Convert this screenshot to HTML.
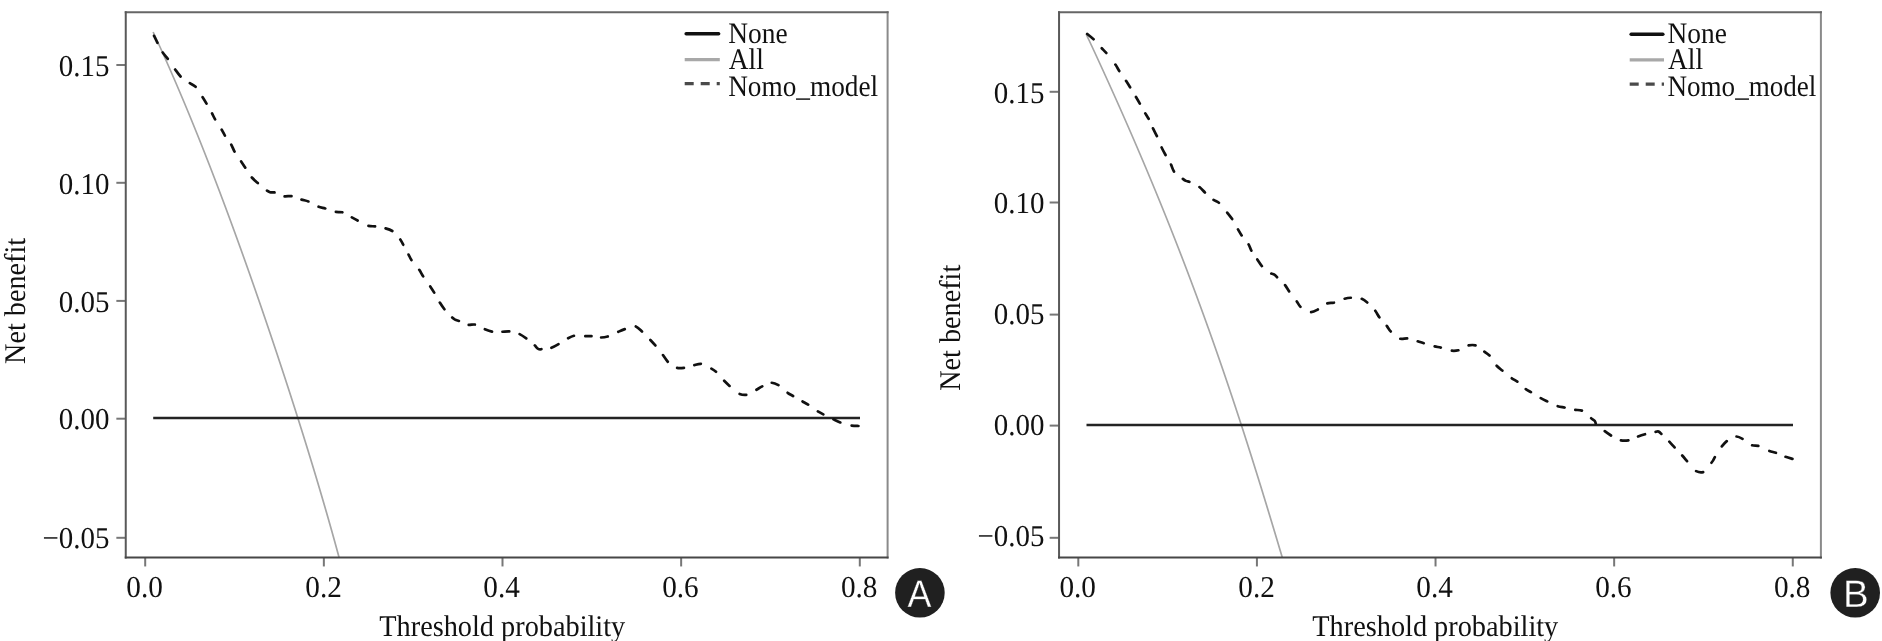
<!DOCTYPE html>
<html><head><meta charset="utf-8"><title>Decision curves</title>
<style>html,body{margin:0;padding:0;background:#fff;width:1882px;height:641px;overflow:hidden}svg{display:block;filter:grayscale(1)}</style>
</head><body>
<svg width="1882" height="641" viewBox="0 0 1882 641" text-rendering="geometricPrecision">
<rect width="100%" height="100%" fill="#fff"/>
<clipPath id="clip0"><rect x="125.75" y="12.30" width="761.85" height="545.15"/></clipPath>
<g clip-path="url(#clip0)" fill="none" stroke-linejoin="round">
<path d="M153.13,32.00 C153.60,33.00 154.99,36.00 155.91,38.00 C156.83,40.00 157.74,42.00 158.65,44.00 C159.56,46.00 160.47,48.00 161.37,50.00 C162.28,52.00 163.18,54.00 164.07,56.00 C164.97,58.00 165.86,60.00 166.74,62.00 C167.63,64.00 168.51,66.00 169.39,68.00 C170.27,70.00 171.15,72.00 172.02,74.00 C172.89,76.00 173.76,78.00 174.62,80.00 C175.48,82.00 176.34,84.00 177.20,86.00 C178.06,88.00 178.91,90.00 179.76,92.00 C180.61,94.00 181.46,96.00 182.30,98.00 C183.14,100.00 183.98,102.00 184.82,104.00 C185.65,106.00 186.49,108.00 187.32,110.00 C188.15,112.00 188.97,114.00 189.80,116.00 C190.62,118.00 191.44,120.00 192.26,122.00 C193.07,124.00 193.89,126.00 194.70,128.00 C195.51,130.00 196.32,132.00 197.13,134.00 C197.93,136.00 198.73,138.00 199.53,140.00 C200.33,142.00 201.13,144.00 201.92,146.00 C202.72,148.00 203.51,150.00 204.30,152.00 C205.09,154.00 205.87,156.00 206.66,158.00 C207.44,160.00 208.22,162.00 209.00,164.00 C209.78,166.00 210.56,168.00 211.33,170.00 C212.10,172.00 212.88,174.00 213.64,176.00 C214.41,178.00 215.18,180.00 215.94,182.00 C216.71,184.00 217.47,186.00 218.23,188.00 C218.99,190.00 219.75,192.00 220.50,194.00 C221.26,196.00 222.01,198.00 222.76,200.00 C223.51,202.00 224.26,204.00 225.01,206.00 C225.76,208.00 226.50,210.00 227.24,212.00 C227.99,214.00 228.73,216.00 229.46,218.00 C230.20,220.00 230.94,222.00 231.67,224.00 C232.41,226.00 233.14,228.00 233.87,230.00 C234.60,232.00 235.33,234.00 236.06,236.00 C236.79,238.00 237.51,240.00 238.23,242.00 C238.96,244.00 239.68,246.00 240.40,248.00 C241.12,250.00 241.84,252.00 242.55,254.00 C243.27,256.00 243.98,258.00 244.70,260.00 C245.41,262.00 246.12,264.00 246.83,266.00 C247.54,268.00 248.25,270.00 248.96,272.00 C249.66,274.00 250.37,276.00 251.07,278.00 C251.77,280.00 252.47,282.00 253.17,284.00 C253.87,286.00 254.57,288.00 255.27,290.00 C255.96,292.00 256.66,294.00 257.35,296.00 C258.05,298.00 258.74,300.00 259.43,302.00 C260.12,304.00 260.81,306.00 261.50,308.00 C262.18,310.00 262.87,312.00 263.55,314.00 C264.24,316.00 264.92,318.00 265.60,320.00 C266.29,322.00 266.97,324.00 267.64,326.00 C268.32,328.00 269.00,330.00 269.68,332.00 C270.35,334.00 271.03,336.00 271.70,338.00 C272.37,340.00 273.04,342.00 273.71,344.00 C274.38,346.00 275.05,348.00 275.72,350.00 C276.39,352.00 277.05,354.00 277.72,356.00 C278.38,358.00 279.04,360.00 279.70,362.00 C280.36,364.00 281.02,366.00 281.68,368.00 C282.34,370.00 283.00,372.00 283.65,374.00 C284.31,376.00 284.96,378.00 285.62,380.00 C286.27,382.00 286.92,384.00 287.57,386.00 C288.22,388.00 288.87,390.00 289.52,392.00 C290.16,394.00 290.81,396.00 291.45,398.00 C292.09,400.00 292.74,402.00 293.38,404.00 C294.02,406.00 294.66,408.00 295.30,410.00 C295.93,412.00 296.57,414.00 297.20,416.00 C297.84,418.00 298.47,420.00 299.10,422.00 C299.74,424.00 300.37,426.00 300.99,428.00 C301.62,430.00 302.25,432.00 302.88,434.00 C303.50,436.00 304.12,438.00 304.75,440.00 C305.37,442.00 305.99,444.00 306.61,446.00 C307.23,448.00 307.84,450.00 308.46,452.00 C309.07,454.00 309.69,456.00 310.30,458.00 C310.91,460.00 311.52,462.00 312.13,464.00 C312.74,466.00 313.34,468.00 313.95,470.00 C314.55,472.00 315.15,474.00 315.76,476.00 C316.36,478.00 316.96,480.00 317.55,482.00 C318.15,484.00 318.75,486.00 319.34,488.00 C319.93,490.00 320.52,492.00 321.11,494.00 C321.70,496.00 322.29,498.00 322.87,500.00 C323.46,502.00 324.04,504.00 324.62,506.00 C325.20,508.00 325.78,510.00 326.36,512.00 C326.94,514.00 327.51,516.00 328.08,518.00 C328.66,520.00 329.23,522.00 329.79,524.00 C330.36,526.00 330.93,528.00 331.49,530.00 C332.05,532.00 332.61,534.00 333.17,536.00 C333.73,538.00 334.29,540.00 334.84,542.00 C335.40,544.00 335.95,546.00 336.49,548.00 C337.04,550.00 337.59,552.00 338.13,554.00 C338.68,556.00 339.48,559.00 339.76,560.00" stroke="#a6a6a6" stroke-width="1.7"/>
<line x1="153.20" y1="418.00" x2="860.00" y2="418.00" stroke="#232323" stroke-width="2.6"/>
<path d="M154.05,35.81 C154.79,37.35 156.26,40.42 157.46,42.82 M162.72,52.55 C164.22,54.65 166.09,56.60 167.80,58.81 M175.17,69.48 C176.91,71.91 178.64,74.44 180.57,76.46 M189.82,83.13 C191.80,84.37 193.80,85.22 195.58,86.80 M202.63,97.25 C204.02,99.44 205.26,101.46 206.52,103.59 M212.06,113.46 C213.11,115.48 213.94,117.36 215.10,119.42 M221.72,129.78 C222.89,131.81 223.74,133.67 224.89,135.58 M231.25,144.61 C232.45,146.84 233.32,149.36 234.54,151.66 M241.14,161.40 C242.55,163.51 243.88,165.56 245.27,167.69 M251.82,177.51 C253.62,179.51 255.76,181.31 257.79,183.08 M267.02,190.66 C268.16,191.49 268.73,191.83 270.00,192.20 C271.33,192.59 272.74,192.22 274.49,192.46 M284.63,196.34 C286.86,196.53 289.23,195.93 291.47,196.08 M301.49,199.58 C303.75,200.24 306.12,200.64 308.40,201.45 M318.61,206.74 C320.82,207.51 323.03,207.82 325.27,208.43 M335.86,211.96 C338.07,212.24 340.28,211.87 342.39,212.27 M351.83,217.37 C353.76,218.44 355.55,219.43 357.60,220.52 M368.47,225.86 C370.70,226.36 372.84,226.19 375.05,226.39 M385.60,228.36 C387.88,229.02 390.24,229.73 392.30,230.98 M400.29,239.53 C401.49,241.27 402.24,242.89 403.22,244.72 M408.56,254.57 C409.53,256.46 410.23,258.14 411.42,260.03 M419.26,269.81 C420.72,271.99 421.79,274.17 423.17,276.38 M430.25,286.42 C431.67,288.55 432.94,290.56 434.21,292.68 M439.80,302.59 C441.23,304.85 442.81,307.20 444.43,309.28 M452.19,317.55 C453.24,318.53 453.84,318.99 455.00,319.60 C456.19,320.23 457.36,320.40 458.91,320.91 M468.74,324.83 C470.75,324.97 472.79,324.32 474.84,324.53 M484.87,329.16 C487.19,330.12 489.65,331.10 492.01,331.62 M502.45,331.77 C504.71,331.65 506.99,331.32 509.25,331.43 M519.62,334.09 C521.88,335.21 524.16,336.85 526.25,338.36 M534.82,345.40 C536.16,346.83 536.99,348.27 538.20,348.90 C539.32,349.49 540.12,349.36 541.41,349.21 M551.42,347.81 C553.72,346.93 556.20,345.48 558.48,344.17 M568.08,338.24 C570.03,337.21 571.84,336.25 573.94,335.78 M585.31,336.22 C587.48,336.23 589.46,336.06 591.47,336.14 M601.11,337.48 C603.26,337.41 605.51,337.08 607.75,336.48 M618.29,331.81 C620.48,330.85 622.53,329.94 624.78,329.12 M635.82,326.44 C638.04,327.29 640.01,329.64 641.99,331.54 M650.37,340.00 C652.10,341.83 653.69,343.52 655.36,345.45 M662.97,355.07 C664.59,357.33 665.99,359.80 667.77,361.74 M677.11,367.94 C679.31,368.41 681.68,368.15 683.95,367.83 M694.34,365.07 C696.52,364.50 698.65,363.71 700.85,363.80 M711.40,368.61 C713.13,369.59 714.47,370.39 716.01,371.70 M724.18,380.80 C725.94,382.62 727.60,384.20 729.55,385.93 M739.64,393.91 C741.84,394.80 744.06,395.11 746.26,394.85 M756.47,389.72 C758.48,388.58 760.31,387.44 762.26,386.42 M771.78,382.73 C773.95,382.91 776.29,383.90 778.44,385.10 M787.63,392.79 C789.46,394.07 791.19,394.95 793.06,396.01 M802.55,401.47 C804.45,402.52 806.22,403.40 808.14,404.57 M817.86,411.34 C819.74,412.49 821.40,413.35 823.32,414.34 M833.45,419.31 C835.71,420.39 837.94,421.52 840.30,422.46 M851.64,425.66 C854.09,425.96 856.92,425.94 858.43,425.98" stroke="#111" stroke-width="2.70" stroke-linecap="round"/>
</g>
<line x1="116.35" y1="65.00" x2="125.75" y2="65.00" stroke="#777" stroke-width="2"/>
<line x1="116.35" y1="182.80" x2="125.75" y2="182.80" stroke="#777" stroke-width="2"/>
<line x1="116.35" y1="300.90" x2="125.75" y2="300.90" stroke="#777" stroke-width="2"/>
<line x1="116.35" y1="418.70" x2="125.75" y2="418.70" stroke="#777" stroke-width="2"/>
<line x1="116.35" y1="537.80" x2="125.75" y2="537.80" stroke="#777" stroke-width="2"/>
<line x1="145.20" y1="557.45" x2="145.20" y2="566.45" stroke="#777" stroke-width="2"/>
<line x1="323.85" y1="557.45" x2="323.85" y2="566.45" stroke="#777" stroke-width="2"/>
<line x1="502.50" y1="557.45" x2="502.50" y2="566.45" stroke="#777" stroke-width="2"/>
<line x1="681.15" y1="557.45" x2="681.15" y2="566.45" stroke="#777" stroke-width="2"/>
<line x1="859.80" y1="557.45" x2="859.80" y2="566.45" stroke="#777" stroke-width="2"/>
<g stroke-width="2" stroke-linecap="square">
<line x1="887.60" y1="12.30" x2="887.60" y2="557.45" stroke="#8a8a8a"/>
<line x1="125.75" y1="12.30" x2="887.60" y2="12.30" stroke="#666"/>
<line x1="125.75" y1="12.30" x2="125.75" y2="557.45" stroke="#595959"/>
<line x1="125.75" y1="557.45" x2="887.60" y2="557.45" stroke="#474747"/>
</g>
<text class="s" transform="translate(109.50,75.80) scale(0.9550,1)" font-family='"Liberation Serif", serif' font-size="30.30" fill="#111" text-anchor="end">0.15</text>
<text class="s" transform="translate(109.50,193.90) scale(0.9550,1)" font-family='"Liberation Serif", serif' font-size="30.30" fill="#111" text-anchor="end">0.10</text>
<text class="s" transform="translate(109.50,311.70) scale(0.9550,1)" font-family='"Liberation Serif", serif' font-size="30.30" fill="#111" text-anchor="end">0.05</text>
<text class="s" transform="translate(109.50,429.40) scale(0.9550,1)" font-family='"Liberation Serif", serif' font-size="30.30" fill="#111" text-anchor="end">0.00</text>
<text class="s" transform="translate(109.50,547.50) scale(0.9550,1)" font-family='"Liberation Serif", serif' font-size="30.30" fill="#111" text-anchor="end">−0.05</text>
<text class="s" transform="translate(126.33,597.00) scale(0.9650,1)" font-family='"Liberation Serif", serif' font-size="30.30" fill="#111">0.0</text>
<text class="s" transform="translate(305.27,597.00) scale(0.9650,1)" font-family='"Liberation Serif", serif' font-size="30.30" fill="#111">0.2</text>
<text class="s" transform="translate(483.33,597.00) scale(0.9650,1)" font-family='"Liberation Serif", serif' font-size="30.30" fill="#111">0.4</text>
<text class="s" transform="translate(662.13,597.00) scale(0.9650,1)" font-family='"Liberation Serif", serif' font-size="30.30" fill="#111">0.6</text>
<text class="s" transform="translate(840.93,597.00) scale(0.9650,1)" font-family='"Liberation Serif", serif' font-size="30.30" fill="#111">0.8</text>
<text class="s" transform="translate(379.30,636.30) scale(0.9430,1)" font-family='"Liberation Serif", serif' font-size="30.00" fill="#111">Threshold probability</text>
<g transform="translate(25.10,300.60) rotate(-90)"><text class="s" transform="translate(-63.31,0.00) scale(0.9400,1)" font-family='"Liberation Serif", serif' font-size="30.00" fill="#111">Net benefit</text></g>
<line x1="686.20" y1="33.70" x2="718.60" y2="33.70" stroke="#111" stroke-width="3.6" stroke-linecap="round"/>
<line x1="684.70" y1="59.70" x2="719.80" y2="59.70" stroke="#a8a8a8" stroke-width="3.3"/>
<line x1="684.70" y1="83.60" x2="719.80" y2="83.60" stroke="#4a4a4a" stroke-width="3.2" stroke-dasharray="9 7"/>
<text class="s" transform="translate(728.18,42.70) scale(0.9200,1)" font-family='"Liberation Serif", serif' font-size="29.80" fill="#111">None</text>
<text class="s" transform="translate(728.73,68.80) scale(0.9200,1)" font-family='"Liberation Serif", serif' font-size="29.80" fill="#111">All</text>
<text class="s" transform="translate(728.18,95.80) scale(0.9150,1)" font-family='"Liberation Serif", serif' font-size="29.80" fill="#111">Nomo_model</text>
<circle cx="919.90" cy="592.80" r="24.8" fill="#231f20"/>
<text transform="translate(907.48,606.80) scale(0.9300,1)" font-family='"Liberation Sans", sans-serif' font-size="38.50" fill="#fff" stroke="#231f20" stroke-width="0.30">A</text>
<clipPath id="clip933"><rect x="1059.05" y="12.30" width="761.85" height="545.15"/></clipPath>
<g clip-path="url(#clip933)" fill="none" stroke-linejoin="round">
<path d="M1086.15,34.00 C1086.62,35.00 1088.02,38.00 1088.95,40.00 C1089.88,42.00 1090.82,44.00 1091.75,46.00 C1092.67,48.00 1093.60,50.00 1094.53,52.00 C1095.45,54.00 1096.38,56.00 1097.30,58.00 C1098.22,60.00 1099.14,62.00 1100.06,64.00 C1100.98,66.00 1101.89,68.00 1102.81,70.00 C1103.72,72.00 1104.63,74.00 1105.54,76.00 C1106.45,78.00 1107.36,80.00 1108.27,82.00 C1109.17,84.00 1110.08,86.00 1110.98,88.00 C1111.88,90.00 1112.78,92.00 1113.68,94.00 C1114.58,96.00 1115.47,98.00 1116.37,100.00 C1117.26,102.00 1118.15,104.00 1119.04,106.00 C1119.93,108.00 1120.82,110.00 1121.70,112.00 C1122.59,114.00 1123.47,116.00 1124.35,118.00 C1125.23,120.00 1126.11,122.00 1126.99,124.00 C1127.86,126.00 1128.74,128.00 1129.61,130.00 C1130.48,132.00 1131.35,134.00 1132.22,136.00 C1133.08,138.00 1133.95,140.00 1134.81,142.00 C1135.67,144.00 1136.53,146.00 1137.39,148.00 C1138.25,150.00 1139.11,152.00 1139.96,154.00 C1140.81,156.00 1141.67,158.00 1142.52,160.00 C1143.36,162.00 1144.21,164.00 1145.06,166.00 C1145.90,168.00 1146.74,170.00 1147.58,172.00 C1148.42,174.00 1149.26,176.00 1150.09,178.00 C1150.93,180.00 1151.76,182.00 1152.59,184.00 C1153.42,186.00 1154.25,188.00 1155.08,190.00 C1155.90,192.00 1156.72,194.00 1157.54,196.00 C1158.37,198.00 1159.18,200.00 1160.00,202.00 C1160.82,204.00 1161.63,206.00 1162.44,208.00 C1163.25,210.00 1164.06,212.00 1164.87,214.00 C1165.67,216.00 1166.48,218.00 1167.28,220.00 C1168.08,222.00 1168.88,224.00 1169.68,226.00 C1170.47,228.00 1171.27,230.00 1172.06,232.00 C1172.85,234.00 1173.64,236.00 1174.43,238.00 C1175.22,240.00 1176.00,242.00 1176.78,244.00 C1177.56,246.00 1178.34,248.00 1179.12,250.00 C1179.90,252.00 1180.68,254.00 1181.45,256.00 C1182.22,258.00 1182.99,260.00 1183.76,262.00 C1184.53,264.00 1185.29,266.00 1186.06,268.00 C1186.82,270.00 1187.58,272.00 1188.34,274.00 C1189.10,276.00 1189.85,278.00 1190.61,280.00 C1191.36,282.00 1192.11,284.00 1192.86,286.00 C1193.61,288.00 1194.36,290.00 1195.10,292.00 C1195.84,294.00 1196.59,296.00 1197.33,298.00 C1198.06,300.00 1198.80,302.00 1199.54,304.00 C1200.27,306.00 1201.00,308.00 1201.73,310.00 C1202.46,312.00 1203.19,314.00 1203.92,316.00 C1204.64,318.00 1205.37,320.00 1206.09,322.00 C1206.81,324.00 1207.53,326.00 1208.24,328.00 C1208.96,330.00 1209.68,332.00 1210.39,334.00 C1211.10,336.00 1211.81,338.00 1212.52,340.00 C1213.23,342.00 1213.93,344.00 1214.63,346.00 C1215.34,348.00 1216.04,350.00 1216.74,352.00 C1217.44,354.00 1218.13,356.00 1218.83,358.00 C1219.52,360.00 1220.21,362.00 1220.90,364.00 C1221.59,366.00 1222.28,368.00 1222.97,370.00 C1223.65,372.00 1224.34,374.00 1225.02,376.00 C1225.70,378.00 1226.38,380.00 1227.06,382.00 C1227.74,384.00 1228.41,386.00 1229.09,388.00 C1229.76,390.00 1230.43,392.00 1231.10,394.00 C1231.77,396.00 1232.44,398.00 1233.11,400.00 C1233.77,402.00 1234.44,404.00 1235.10,406.00 C1235.76,408.00 1236.42,410.00 1237.08,412.00 C1237.74,414.00 1238.39,416.00 1239.05,418.00 C1239.70,420.00 1240.35,422.00 1241.00,424.00 C1241.66,426.00 1242.30,428.00 1242.95,430.00 C1243.60,432.00 1244.25,434.00 1244.89,436.00 C1245.53,438.00 1246.17,440.00 1246.82,442.00 C1247.46,444.00 1248.09,446.00 1248.73,448.00 C1249.37,450.00 1250.00,452.00 1250.64,454.00 C1251.27,456.00 1251.90,458.00 1252.53,460.00 C1253.17,462.00 1253.79,464.00 1254.42,466.00 C1255.05,468.00 1255.68,470.00 1256.30,472.00 C1256.93,474.00 1257.55,476.00 1258.17,478.00 C1258.79,480.00 1259.41,482.00 1260.03,484.00 C1260.65,486.00 1261.27,488.00 1261.89,490.00 C1262.50,492.00 1263.12,494.00 1263.73,496.00 C1264.35,498.00 1264.96,500.00 1265.57,502.00 C1266.18,504.00 1266.79,506.00 1267.40,508.00 C1268.01,510.00 1268.62,512.00 1269.22,514.00 C1269.83,516.00 1270.44,518.00 1271.04,520.00 C1271.65,522.00 1272.25,524.00 1272.85,526.00 C1273.46,528.00 1274.06,530.00 1274.66,532.00 C1275.26,534.00 1275.86,536.00 1276.46,538.00 C1277.06,540.00 1277.65,542.00 1278.25,544.00 C1278.85,546.00 1279.45,548.00 1280.04,550.00 C1280.64,552.00 1281.33,554.33 1281.83,556.00 C1282.32,557.67 1282.82,559.33 1283.01,560.00" stroke="#a6a6a6" stroke-width="1.7"/>
<line x1="1086.50" y1="425.00" x2="1793.00" y2="425.00" stroke="#232323" stroke-width="2.6"/>
<path d="M1087.23,33.96 C1088.62,35.08 1091.45,37.27 1093.57,39.21 M1101.78,48.23 C1103.34,49.88 1104.61,51.07 1106.27,52.96 M1115.41,64.58 C1116.96,66.89 1117.96,68.87 1119.29,71.00 M1126.03,80.81 C1127.45,82.98 1128.77,85.13 1130.10,87.30 M1135.99,97.02 C1137.28,99.20 1138.58,101.40 1139.83,103.58 M1145.31,113.35 C1146.45,115.23 1147.60,116.90 1148.64,118.76 M1152.98,128.29 C1154.17,130.74 1155.67,133.50 1156.90,136.14 M1161.61,147.46 C1162.84,150.03 1164.26,152.63 1165.56,155.01 M1171.00,164.55 C1172.02,166.84 1172.65,169.47 1173.97,171.55 M1182.88,178.86 C1184.09,179.80 1184.75,180.35 1185.90,180.90 C1187.05,181.45 1187.94,181.35 1189.35,181.77 M1199.44,187.07 C1201.39,188.64 1203.08,190.67 1204.91,192.45 M1213.52,199.85 C1215.32,200.94 1217.11,201.43 1218.89,202.74 M1227.21,212.57 C1228.96,214.75 1230.66,216.80 1232.18,219.02 M1237.99,229.36 C1239.21,231.47 1240.32,233.44 1241.65,235.41 M1248.59,244.34 C1249.70,246.39 1250.34,248.62 1251.36,250.67 M1257.31,259.45 C1258.74,261.60 1260.15,264.06 1261.87,266.09 M1271.33,273.62 C1272.55,274.13 1273.29,273.93 1274.30,274.60 C1275.34,275.29 1275.94,276.09 1277.04,277.24 M1285.08,285.13 C1286.55,287.06 1287.67,289.22 1289.13,291.38 M1296.80,301.45 C1298.12,303.40 1298.91,305.25 1300.47,306.84 M1311.11,312.21 C1313.41,312.05 1315.68,310.66 1317.85,309.46 M1327.30,303.40 C1329.44,302.83 1331.69,303.10 1333.94,302.71 M1344.66,298.74 C1346.77,298.19 1348.69,297.87 1350.82,297.74 M1361.79,298.84 C1363.78,299.68 1365.48,301.00 1367.23,302.46 M1375.27,310.76 C1376.76,312.85 1377.90,315.24 1379.35,317.34 M1386.79,325.87 C1388.17,327.73 1389.17,329.67 1390.72,331.47 M1400.32,338.76 C1402.53,339.19 1404.86,338.38 1407.15,338.43 M1417.74,341.29 C1419.80,341.92 1421.66,342.55 1423.75,343.20 M1434.67,346.43 C1436.79,346.89 1438.70,347.10 1440.83,347.57 M1451.88,350.70 C1454.10,350.90 1456.21,350.78 1458.36,350.26 M1468.64,345.38 C1470.92,344.91 1473.36,344.82 1475.51,345.34 M1484.37,351.58 C1486.14,352.88 1487.87,353.93 1489.50,355.56 M1496.66,365.73 C1498.42,367.58 1500.36,368.96 1502.35,370.57 M1511.84,378.29 C1513.74,379.56 1515.51,380.37 1517.31,381.62 M1525.80,389.09 C1527.51,390.29 1529.11,391.10 1530.93,392.18 M1540.74,398.16 C1542.89,399.32 1545.02,400.32 1547.23,401.38 M1557.73,406.19 C1560.01,406.84 1562.28,407.08 1564.57,407.51 M1575.26,409.85 C1577.51,410.11 1579.80,409.91 1581.91,410.63 M1591.16,418.25 C1592.67,419.37 1593.83,419.96 1594.70,420.90 C1595.49,421.75 1595.23,422.33 1595.72,423.26 M1604.77,431.18 C1606.81,432.72 1608.88,434.19 1611.00,435.51 M1620.91,440.39 C1623.32,440.81 1626.03,440.74 1628.40,440.36 M1638.07,436.48 C1640.31,435.67 1642.70,434.90 1645.00,434.25 M1655.64,431.83 C1656.93,431.51 1657.69,431.25 1658.70,431.60 C1659.74,431.96 1660.29,432.79 1661.32,433.91 M1669.34,441.67 C1671.08,443.50 1672.83,445.53 1674.56,447.41 M1682.22,455.50 C1683.84,457.31 1685.29,459.08 1687.02,461.11 M1696.10,471.10 C1698.35,472.22 1700.98,472.70 1703.15,472.10 M1711.46,462.74 C1712.18,461.85 1712.38,461.59 1713.00,460.60 C1713.67,459.54 1714.00,458.63 1714.85,457.11 M1721.82,446.41 C1723.39,444.43 1724.94,442.66 1726.77,441.17 M1736.51,436.49 C1738.53,436.63 1740.51,437.70 1742.51,438.81 M1752.12,445.32 C1754.15,445.88 1756.16,445.51 1758.31,445.94 M1769.34,450.95 C1771.61,451.73 1773.79,452.12 1775.92,452.80 M1785.53,456.82 C1787.87,457.61 1790.90,458.41 1792.45,458.84" stroke="#111" stroke-width="2.70" stroke-linecap="round"/>
</g>
<line x1="1049.65" y1="91.80" x2="1059.05" y2="91.80" stroke="#777" stroke-width="2"/>
<line x1="1049.65" y1="202.50" x2="1059.05" y2="202.50" stroke="#777" stroke-width="2"/>
<line x1="1049.65" y1="314.60" x2="1059.05" y2="314.60" stroke="#777" stroke-width="2"/>
<line x1="1049.65" y1="425.60" x2="1059.05" y2="425.60" stroke="#777" stroke-width="2"/>
<line x1="1049.65" y1="537.80" x2="1059.05" y2="537.80" stroke="#777" stroke-width="2"/>
<line x1="1078.30" y1="557.45" x2="1078.30" y2="566.45" stroke="#777" stroke-width="2"/>
<line x1="1256.92" y1="557.45" x2="1256.92" y2="566.45" stroke="#777" stroke-width="2"/>
<line x1="1435.54" y1="557.45" x2="1435.54" y2="566.45" stroke="#777" stroke-width="2"/>
<line x1="1614.16" y1="557.45" x2="1614.16" y2="566.45" stroke="#777" stroke-width="2"/>
<line x1="1792.78" y1="557.45" x2="1792.78" y2="566.45" stroke="#777" stroke-width="2"/>
<g stroke-width="2" stroke-linecap="square">
<line x1="1820.90" y1="12.30" x2="1820.90" y2="557.45" stroke="#8a8a8a"/>
<line x1="1059.05" y1="12.30" x2="1820.90" y2="12.30" stroke="#666"/>
<line x1="1059.05" y1="12.30" x2="1059.05" y2="557.45" stroke="#595959"/>
<line x1="1059.05" y1="557.45" x2="1820.90" y2="557.45" stroke="#474747"/>
</g>
<text class="s" transform="translate(1044.40,102.50) scale(0.9550,1)" font-family='"Liberation Serif", serif' font-size="30.30" fill="#111" text-anchor="end">0.15</text>
<text class="s" transform="translate(1044.40,213.30) scale(0.9550,1)" font-family='"Liberation Serif", serif' font-size="30.30" fill="#111" text-anchor="end">0.10</text>
<text class="s" transform="translate(1044.40,324.20) scale(0.9550,1)" font-family='"Liberation Serif", serif' font-size="30.30" fill="#111" text-anchor="end">0.05</text>
<text class="s" transform="translate(1044.40,435.00) scale(0.9550,1)" font-family='"Liberation Serif", serif' font-size="30.30" fill="#111" text-anchor="end">0.00</text>
<text class="s" transform="translate(1044.40,545.80) scale(0.9550,1)" font-family='"Liberation Serif", serif' font-size="30.30" fill="#111" text-anchor="end">−0.05</text>
<text class="s" transform="translate(1059.43,597.00) scale(0.9650,1)" font-family='"Liberation Serif", serif' font-size="30.30" fill="#111">0.0</text>
<text class="s" transform="translate(1238.34,597.00) scale(0.9650,1)" font-family='"Liberation Serif", serif' font-size="30.30" fill="#111">0.2</text>
<text class="s" transform="translate(1416.37,597.00) scale(0.9650,1)" font-family='"Liberation Serif", serif' font-size="30.30" fill="#111">0.4</text>
<text class="s" transform="translate(1595.14,597.00) scale(0.9650,1)" font-family='"Liberation Serif", serif' font-size="30.30" fill="#111">0.6</text>
<text class="s" transform="translate(1773.91,597.00) scale(0.9650,1)" font-family='"Liberation Serif", serif' font-size="30.30" fill="#111">0.8</text>
<text class="s" transform="translate(1312.34,636.30) scale(0.9430,1)" font-family='"Liberation Serif", serif' font-size="30.00" fill="#111">Threshold probability</text>
<g transform="translate(960.40,327.50) rotate(-90)"><text class="s" transform="translate(-63.31,0.00) scale(0.9400,1)" font-family='"Liberation Serif", serif' font-size="30.00" fill="#111">Net benefit</text></g>
<line x1="1631.20" y1="34.30" x2="1662.80" y2="34.30" stroke="#111" stroke-width="3.6" stroke-linecap="round"/>
<line x1="1629.70" y1="59.95" x2="1664.00" y2="59.95" stroke="#a8a8a8" stroke-width="3.3"/>
<line x1="1629.70" y1="84.10" x2="1664.00" y2="84.10" stroke="#4a4a4a" stroke-width="3.2" stroke-dasharray="9 7"/>
<text class="s" transform="translate(1667.48,42.70) scale(0.9200,1)" font-family='"Liberation Serif", serif' font-size="29.80" fill="#111">None</text>
<text class="s" transform="translate(1668.03,68.80) scale(0.9200,1)" font-family='"Liberation Serif", serif' font-size="29.80" fill="#111">All</text>
<text class="s" transform="translate(1667.49,95.80) scale(0.9080,1)" font-family='"Liberation Serif", serif' font-size="29.80" fill="#111">Nomo_model</text>
<circle cx="1855.20" cy="592.80" r="24.8" fill="#231f20"/>
<text transform="translate(1842.92,606.80) scale(1.0000,1)" font-family='"Liberation Sans", sans-serif' font-size="38.50" fill="#fff" stroke="#231f20" stroke-width="0.30">B</text>
</svg>
</body></html>
